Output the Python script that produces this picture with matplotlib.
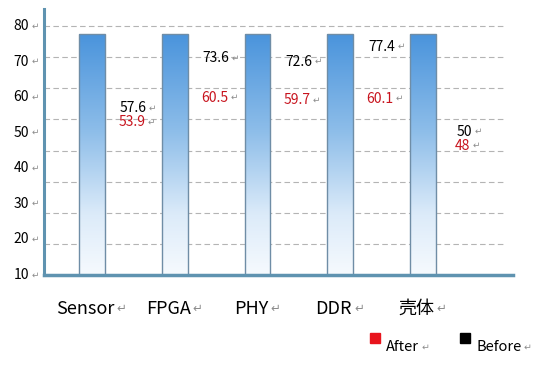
import numpy as np
import matplotlib.pyplot as plt
from matplotlib.patches import Rectangle
from matplotlib.colors import LinearSegmentedColormap

plt.rcParams['font.family'] = ['Noto Sans CJK SC', 'DejaVu Sans']

categories = ["Sensor", "FPGA", "PHY", "DDR", "壳体"]
bar_values = [77.4, 77.4, 77.4, 77.4, 77.4]
before_values = [57.6, 73.6, 72.6, 77.4, 50]
after_values = [53.9, 60.5, 59.7, 60.1, 48]
tick_labels = ["10", "20", "30", "40", "50", "60", "70", "80"]

AXIS_COLOR = "#5f93b0"
MARK = "\u21b5"
MARK_COLOR = "#8c8c8c"


def label(ax, x, y, s, color="black", size=10, ha="center", va="center", coords="data"):
    t = ax.annotate(s, (x, y), xycoords=coords, color=color, fontsize=size,
                    ha=ha, va=va, annotation_clip=False)
    ax.annotate(MARK, xy=(1, 0.2), xycoords=t, xytext=(1.5, 0),
                textcoords="offset points", color=MARK_COLOR,
                fontsize=size * 0.65, ha="left", va="bottom",
                family="DejaVu Sans", annotation_clip=False)
    return t


fig = plt.figure(figsize=(5.35, 3.70), dpi=100)
ax = fig.add_axes([0.0822, 0.2568, 0.8768, 0.7189])

x = np.arange(len(categories))
xmin, xmax = -0.58, len(categories) - 1 + 1.088

# dashed grid, 0..80 every 10
grid_vals = np.arange(10, 81, 10)
ax.hlines(grid_vals, xmin, len(categories) - 1 + 0.97, colors="#b4b4b4",
          linewidth=0.8, linestyles=(0, (5, 3)), zorder=1)

# gradient bars
bars = ax.bar(x, bar_values, width=0.314, color="none",
              edgecolor="#6f8da6", linewidth=1.0, zorder=3)
cmap = LinearSegmentedColormap.from_list(
    "bar", [(0, "#f6fafe"), (0.25, "#dcebf9"), (0.6, "#8dbde9"), (1, "#4a94dc")])
grad = np.linspace(0, 1, 256).reshape(-1, 1)
for b in bars:
    x0, y0 = b.get_x(), b.get_y()
    w, h = b.get_width(), b.get_height()
    im = ax.imshow(grad, cmap=cmap, origin="lower", aspect="auto",
                   extent=(x0, x0 + w, y0, y0 + h), zorder=2)
    im.set_clip_path(b)
ax.set_aspect("auto")
ax.set_xlim(xmin, xmax)
ax.set_ylim(0, 85.5)

# axes lines
for s in ["top", "right", "bottom"]:
    ax.spines[s].set_visible(False)
ax.spines["left"].set_color(AXIS_COLOR)
ax.spines["left"].set_linewidth(2.2)
ax.axhline(0, xmin=0, xmax=1, color=AXIS_COLOR, linewidth=2.5, zorder=4,
           clip_on=False)
ax.set_xticks([])
ax.set_yticks([])

# tick labels (spread evenly 0..80 as in the original)
for pos, t in zip(np.linspace(0, 80, len(tick_labels)), tick_labels):
    label(ax, -0.76, pos, t, size=10, ha="right")

# value labels between bars
for i, (bv, av) in enumerate(zip(before_values, after_values)):
    yb = bv - 4
    ya = min(av - 3.5, yb - 4.5)
    label(ax, i + 0.5, yb, str(bv), color="black", size=10)
    label(ax, i + 0.48, ya, str(av), color="#c8141e", size=10)

# category labels
for i, c in enumerate(categories):
    label(ax, i - 0.08, -11, c, size=13)

# legend
fig.patches.append(Rectangle((370 / 535, 1 - 343 / 370), 10 / 535, 10 / 370,
                             transform=fig.transFigure, color="#e8141c"))
fig.patches.append(Rectangle((460 / 535, 1 - 343 / 370), 10 / 535, 10 / 370,
                             transform=fig.transFigure, color="black"))
label(ax, 386 / 535, 1 - 347 / 370, "After", size=10.5, ha="left",
      coords="figure fraction")
label(ax, 476 / 535, 1 - 347 / 370, "Before", size=10.5, ha="left",
      coords="figure fraction")

fig.savefig("out.png", dpi=100)
